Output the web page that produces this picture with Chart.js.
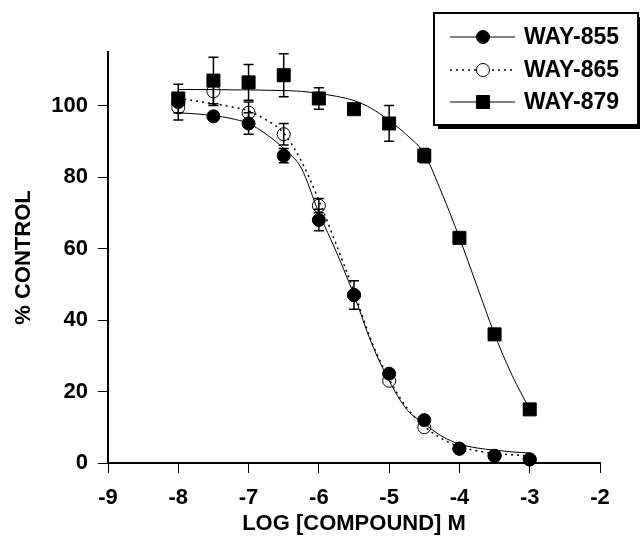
<!DOCTYPE html>
<html>
<head>
<meta charset="utf-8">
<script src="https://cdn.jsdelivr.net/npm/chart.js@4/dist/chart.umd.min.js"></script>
<style>
  html, body { margin: 0; padding: 0; background: #fff; }
  #wrap { width: 640px; height: 536px; }
</style>
</head>
<body>
<div id="wrap"><canvas id="chart" width="640" height="536"></canvas></div>
<script>
// concentrations (log M)
const doses = [-8, -7.5, -7, -6.5, -6, -5.5, -5, -4.5, -4, -3.5, -3];

// measured % control
const way855 = [101, 97, 95, 86, 68, 47, 25, 12, 4, 2, 1];
const way865 = [99.5, 104, 98, 92, 72, 47, 23, 10, 4, 2, 1];
const way879 = [102, 107, 106.5, 108.5, 102, 99, 95, 86, 63, 36, 15];

// error bars (+/-)
const err855 = [0, 0, 3, 2, 3, 4, 0, 0, 0, 0, 0];
const err865 = [3.5, 4, 3, 3, 2, 0, 0, 0, 0, 0, 0];
const err879 = [4, 6.5, 5, 6, 3, 0, 5, 2, 0, 0, 0];

// fitted curves
const fitX = [-8, -7.75, -7.5, -7.25, -7, -6.75, -6.5, -6.25, -6, -5.75, -5.5,
              -5.25, -5, -4.75, -4.5, -4.25, -4, -3.75, -3.5, -3.25, -3];
const fit855 = [98, 97.7, 97.2, 96.4, 95, 92, 88, 82.5, 70, 59, 47,
                33.5, 23, 15, 11, 7.5, 5.3, 4.2, 3.6, 3.1, 2.8];
const fit865 = [102, 101.3, 100.5, 99.7, 98.5, 96, 92.3, 84.5, 73.5, 61, 48,
                34, 23.5, 15.5, 10.3, 6.8, 4.6, 3.4, 2.7, 2.3, 2];
const fit879 = [104.5, 104.5, 104.5, 104.4, 104.4, 104.3, 104.2, 104, 103.4, 102.6, 101.4,
                99.2, 95.8, 91.8, 86.5, 75.5, 63, 49.5, 36, 24.5, 15];

const xTicks = [-9, -8, -7, -6, -5, -4, -3, -2];
const yTicks = [0, 20, 40, 60, 80, 100];

const seriesNames = ['WAY-855', 'WAY-865', 'WAY-879'];

const FONT = '"Liberation Sans", Arial, sans-serif';
const pts = (xs, ys) => xs.map((x, i) => ({ x, y: ys[i] }));

const errorBars = {
  id: 'errorBars',
  beforeDatasetsDraw(chart) {
    const { ctx, scales: { x, y } } = chart;
    ctx.save();
    ctx.strokeStyle = '#000';
    ctx.lineWidth = 1.5;
    chart.data.datasets.forEach(ds => {
      if (!ds.errors) return;
      ds.data.forEach((p, i) => {
        const e = ds.errors[i];
        if (!e) return;
        const px = x.getPixelForValue(p.x);
        const top = y.getPixelForValue(p.y + e);
        const bot = y.getPixelForValue(p.y - e);
        ctx.beginPath();
        ctx.moveTo(px, top); ctx.lineTo(px, bot);
        ctx.moveTo(px - 5, top); ctx.lineTo(px + 5, top);
        ctx.moveTo(px - 5, bot); ctx.lineTo(px + 5, bot);
        ctx.stroke();
      });
    });
    ctx.restore();
  }
};

// boxed legend with drop shadow, top right
const boxLegend = {
  id: 'boxLegend',
  afterDraw(chart) {
    const ctx = chart.ctx;
    const bx = 434, by = 13, bw = 204, bh = 112;
    ctx.save();
    ctx.fillStyle = '#000';
    ctx.fillRect(bx + 4, by + 4, bw, bh);
    ctx.fillStyle = '#fff';
    ctx.fillRect(bx, by, bw, bh);
    ctx.strokeStyle = '#000';
    ctx.lineWidth = 2;
    ctx.strokeRect(bx, by, bw, bh);

    const rows = [37, 70, 102];
    const marks = chart.data.datasets.filter(d => d.isMarker);
    marks.forEach((ds, i) => {
      const yy = rows[i];
      ctx.beginPath();
      ctx.strokeStyle = '#000';
      ctx.lineWidth = ds.legendDash ? 1.5 : 1;
      ctx.setLineDash(ds.legendDash || []);
      ctx.moveTo(450, yy); ctx.lineTo(515, yy);
      ctx.stroke();
      ctx.setLineDash([]);
      ctx.lineWidth = ds.borderWidth;
      ctx.beginPath();
      if (ds.pointStyle === 'rect') {
        const s = ds.pointRadius * Math.SQRT1_2;
        ctx.rect(483 - s, yy - s, 2 * s, 2 * s);
      } else {
        ctx.arc(483, yy, ds.pointRadius, 0, Math.PI * 2);
      }
      if (ds.hollow) {
        ctx.fillStyle = '#fff';
      } else {
        ctx.fillStyle = '#000';
      }
      ctx.fill();
      ctx.stroke();
      ctx.fillStyle = '#000';
      ctx.font = 'bold 23px ' + FONT;
      ctx.textBaseline = 'middle';
      ctx.textAlign = 'left';
      ctx.fillText(ds.label, 524, yy + 1);
    });
    ctx.restore();
  }
};

const curve = (data, dash, order) => ({
  data, showLine: true, pointRadius: 0, borderColor: '#000',
  borderWidth: dash ? 1.5 : 1, borderDash: dash || [],
  cubicInterpolationMode: 'monotone', order
});

new Chart(document.getElementById('chart'), {
  type: 'scatter',
  data: {
    datasets: [
      curve(pts(fitX, fit855), null, 5),
      curve(pts(fitX, fit865), [2, 4], 4),
      curve(pts(fitX, fit879), null, 3),
      {
        label: seriesNames[0], isMarker: true, data: pts(doses, way855), errors: err855,
        pointStyle: 'circle', pointRadius: 6.5, pointBackgroundColor: '#000',
        pointBorderColor: '#000', borderWidth: 1, order: 1, clip: false
      },
      {
        label: seriesNames[1], isMarker: true, hollow: true, data: pts(doses, way865), errors: err865,
        legendDash: [2, 4],
        pointStyle: 'circle', pointRadius: 6.5, pointBackgroundColor: 'rgba(0,0,0,0)',
        pointBorderColor: '#000', borderWidth: 1, order: 2, clip: false
      },
      {
        label: seriesNames[2], isMarker: true, data: pts(doses, way879), errors: err879,
        pointStyle: 'rect', pointRadius: 9.2, pointBackgroundColor: '#000',
        pointBorderColor: '#000', borderWidth: 1, order: 0, clip: false
      }
    ]
  },
  options: {
    responsive: false,
    animation: false,
    layout: { padding: { top: 52, right: 40, left: 0, bottom: 0 } },
    plugins: { legend: { display: false }, tooltip: { enabled: false } },
    scales: {
      x: {
        type: 'linear', position: 'bottom', min: -9, max: -2,
        afterFit: s => { s.height = 73; },
        afterBuildTicks: s => { s.ticks = xTicks.map(v => ({ value: v })); },
        ticks: {
          color: '#000', padding: 12, maxRotation: 0,
          font: { family: FONT, size: 22, weight: 'bold' },
          callback: v => String(v)
        },
        grid: { drawOnChartArea: false, drawTicks: true, tickLength: 10, color: '#000', lineWidth: 1 },
        border: { display: true, color: '#000', width: 2 },
        title: {
          display: true, text: 'LOG [COMPOUND] M', color: '#000',
          font: { family: FONT, size: 22, weight: 'bold', lineHeight: 0.8 },
          padding: { top: 0, bottom: 3 }
        }
      },
      y: {
        type: 'linear', min: 0, max: 115,
        afterFit: s => { s.width = 108; },
        afterBuildTicks: s => { s.ticks = yTicks.map(v => ({ value: v })); },
        ticks: {
          color: '#000', padding: 10,
          font: { family: FONT, size: 22, weight: 'bold' }
        },
        grid: { drawOnChartArea: false, drawTicks: true, tickLength: 10, color: '#000', lineWidth: 1 },
        border: { display: true, color: '#000', width: 2 },
        title: {
          display: true, text: '% CONTROL', color: '#000',
          font: { family: FONT, size: 22, weight: 'bold' },
          padding: { top: 11, bottom: 0 }
        }
      }
    }
  },
  plugins: [errorBars, boxLegend]
});
</script>
</body>
</html>
